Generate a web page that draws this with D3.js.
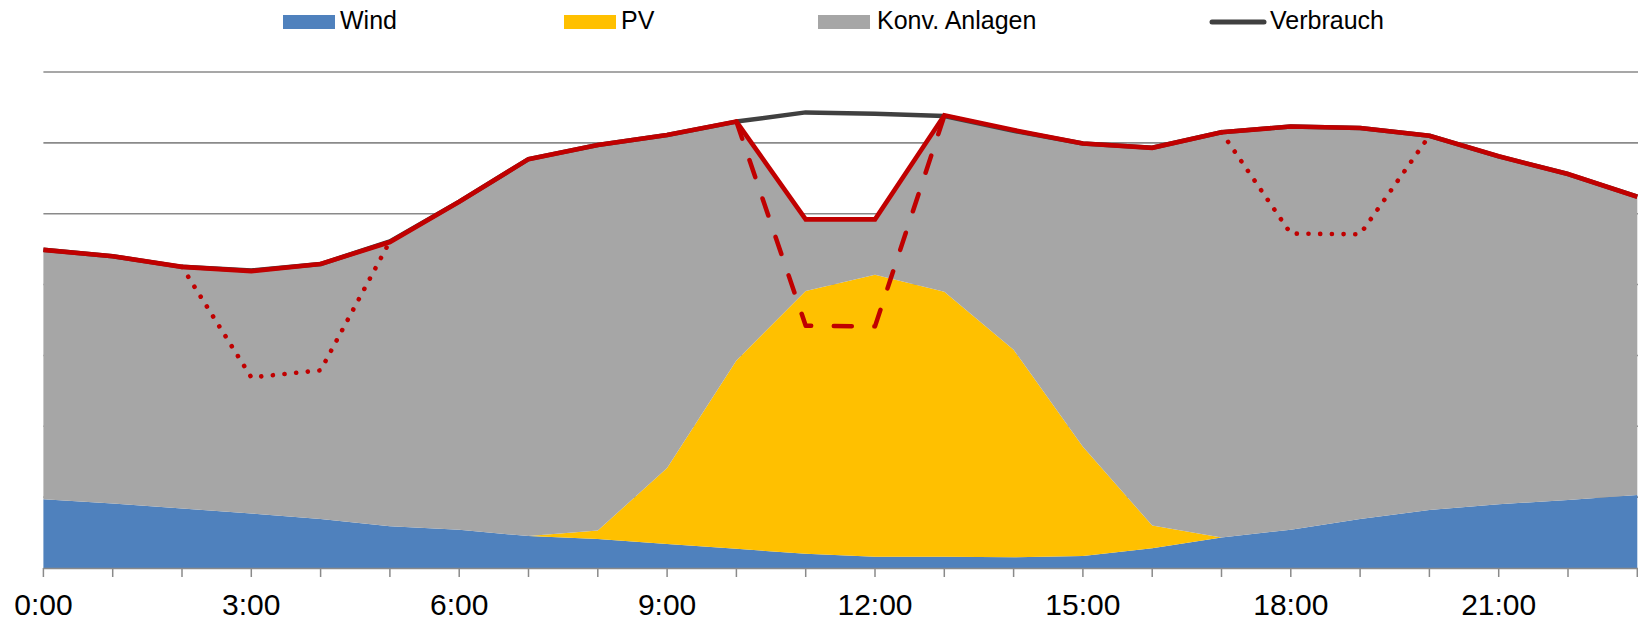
<!DOCTYPE html>
<html>
<head>
<meta charset="utf-8">
<script src="https://cdn.jsdelivr.net/npm/d3@7"></script>
<style>
  html, body { margin: 0; padding: 0; background: #ffffff; }
  svg { display: block; }
  text { font-family: "Liberation Sans", Arial, sans-serif; fill: #000; }
</style>
</head>
<body>
<svg id="chart" width="1638" height="622"></svg>
<script>
// ---- data ----
const hours = d3.range(0, 24);
const tickLabels = ["0:00","3:00","6:00","9:00","12:00","15:00","18:00","21:00"];
const seriesNames = ["Wind", "PV", "Konv. Anlagen"];
const wind = [9.7, 9.1, 8.4, 7.7, 6.9, 5.9, 5.4, 4.5, 4.1, 3.4, 2.7, 2.0, 1.6, 1.6, 1.5, 1.7, 2.8, 4.3, 5.4, 6.9, 8.2, 9.0, 9.6, 10.3];
const pv   = [0, 0, 0, 0, 0, 0, 0, 0, 1.2, 10.7, 26.6, 37.1, 39.8, 37.4, 29.3, 15.4, 3.2, 0, 0, 0, 0, 0, 0, 0];
const konv = [35.2, 34.9, 34.1, 34.2, 36.0, 40.1, 46.3, 53.2, 54.4, 47.0, 33.7, 10.1, 7.8, 24.9, 31.0, 42.8, 53.3, 57.2, 56.9, 55.2, 52.8, 49.1, 46.0, 42.1];
const verbrauch = [44.9, 44.0, 42.5, 42.0, 42.9, 46.1, 51.7, 57.7, 59.7, 61.1, 63.0, 64.3, 64.1, 63.8, 61.7, 59.9, 59.3, 61.5, 62.3, 62.1, 61.0, 58.1, 55.6, 52.4];
const nightShift   = [null, null, 42.5, 26.9, 27.9, 46.1, null, null, null, null, null, null, null, null, null, null, null, null, null, null, null, null, null, null];
const middayShift  = [null, null, null, null, null, null, null, null, null, null, 63.0, 34.2, 34.1, 63.8, null, null, null, null, null, null, null, null, null, null];
const eveningShift = [null, null, null, null, null, null, null, null, null, null, null, null, null, null, null, null, null, 61.5, 47.2, 47.1, 61.0, null, null, null];
const gridValues = [10, 20, 30, 40, 50, 60, 70];

// ---- layout ----
const svg = d3.select("#chart");
const colors = { "Wind": "#4F81BD", "PV": "#FFC000", "Konv. Anlagen": "#A6A6A6" };
const red = "#C00000";
const dark = "#404040";
const gridColor = "#8A8A8A";

const x = d3.scaleLinear().domain([0, 23]).range([43.4, 1637.3]);
const y = d3.scaleLinear().domain([0, 70]).range([568, 72]);

// gridlines
svg.append("g").selectAll("line").data(gridValues).join("line")
  .attr("x1", x(0)).attr("x2", 1638)
  .attr("y1", d => y(d)).attr("y2", d => y(d))
  .attr("stroke", gridColor).attr("stroke-width", 1.6);

// stacked areas
const table = hours.map((h, i) => ({ hour: h, "Wind": wind[i], "PV": pv[i], "Konv. Anlagen": konv[i] }));
const stacked = d3.stack().keys(seriesNames)(table);
const area = d3.area().x(d => x(d.data.hour)).y0(d => y(d[0])).y1(d => y(d[1]));
svg.append("g").selectAll("path").data(stacked).join("path")
  .attr("d", area)
  .attr("fill", d => colors[d.key]);

// Verbrauch line
const line = d3.line().defined(d => d != null).x((d, i) => x(hours[i])).y(d => y(d));
svg.append("path").attr("d", line(verbrauch))
  .attr("fill", "none").attr("stroke", dark).attr("stroke-width", 4.5)
  .attr("stroke-linejoin", "round");

// red total generation line (top of stack)
const topLayer = stacked[stacked.length - 1];
svg.append("path")
  .attr("d", d3.line().x(d => x(d.data.hour)).y(d => y(d[1]))(topLayer))
  .attr("fill", "none").attr("stroke", red).attr("stroke-width", 4.6)
  .attr("stroke-linejoin", "miter");

// shifted scenario lines
svg.append("path").attr("d", line(middayShift))
  .attr("fill", "none").attr("stroke", red).attr("stroke-width", 4.5)
  .attr("stroke-dasharray", "18 22.6").attr("stroke-linecap", "round").attr("stroke-linejoin", "round");
[nightShift, eveningShift].forEach(s => {
  svg.append("path").attr("d", line(s))
    .attr("fill", "none").attr("stroke", red).attr("stroke-width", 4.6)
    .attr("stroke-dasharray", "0.1 11.6").attr("stroke-linecap", "round");
});

// x axis
const axisG = svg.append("g");
axisG.append("line").attr("x1", x(0)).attr("x2", 1638).attr("y1", 568.5).attr("y2", 568.5)
  .attr("stroke", gridColor).attr("stroke-width", 1.5);
axisG.selectAll("line.tick").data(hours).join("line").attr("class", "tick")
  .attr("x1", d => x(d)).attr("x2", d => x(d))
  .attr("y1", 568).attr("y2", 577)
  .attr("stroke", gridColor).attr("stroke-width", 1.5);
axisG.selectAll("text").data(tickLabels).join("text")
  .attr("x", (d, i) => x(i * 3)).attr("y", 615)
  .attr("text-anchor", "middle").attr("font-size", 30)
  .text(d => d);

// legend
const legendItems = [
  { name: "Wind", type: "rect", sx: 283, tx: 340 },
  { name: "PV", type: "rect", sx: 564, tx: 621 },
  { name: "Konv. Anlagen", type: "rect", sx: 818, tx: 877 },
  { name: "Verbrauch", type: "line", sx: 1210, tx: 1270 }
];
const lg = svg.append("g");
legendItems.forEach(it => {
  if (it.type === "rect") {
    lg.append("rect").attr("x", it.sx).attr("y", 15).attr("width", 52).attr("height", 14)
      .attr("fill", colors[it.name]);
  } else {
    lg.append("line").attr("x1", it.sx + 2).attr("x2", it.sx + 54).attr("y1", 22).attr("y2", 22)
      .attr("stroke", dark).attr("stroke-width", 5).attr("stroke-linecap", "round");
  }
  lg.append("text").attr("x", it.tx).attr("y", 29).attr("font-size", 25).text(it.name);
});
</script>
</body>
</html>
